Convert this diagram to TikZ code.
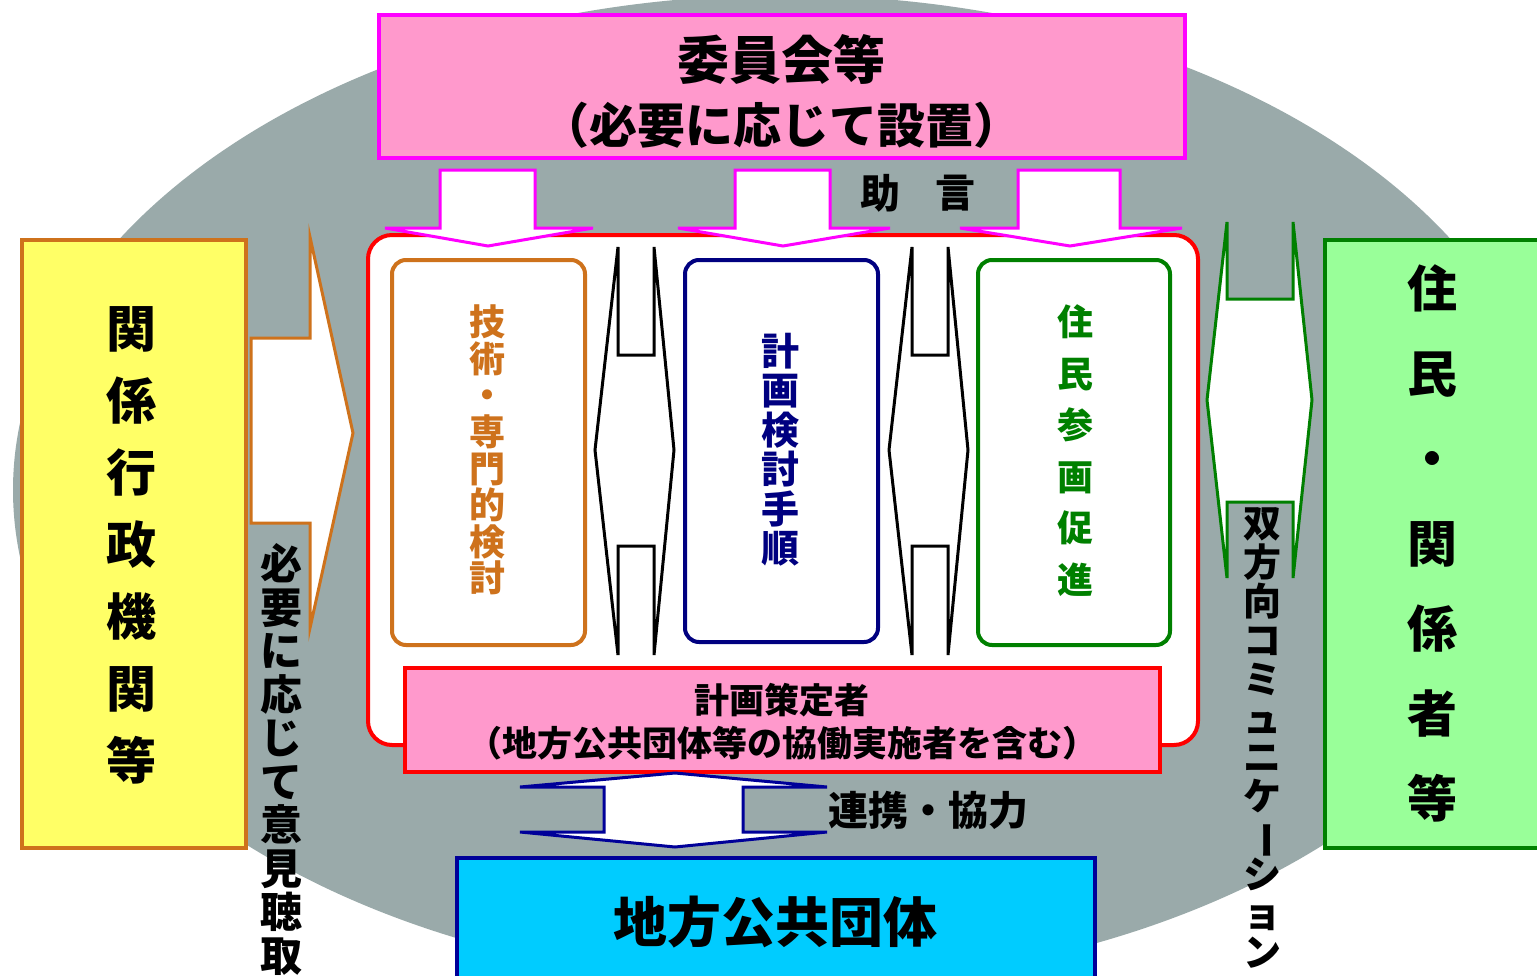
\documentclass[tikz,border=0pt]{standalone}
\usepackage{fontspec}
\usetikzlibrary{fit}
\newfontfamily\jp{Noto Sans CJK JP}
\definecolor{bggray}{RGB}{154,170,170}
\definecolor{pinkf}{RGB}{255,153,204}
\definecolor{mag}{RGB}{255,0,255}
\definecolor{orng}{RGB}{206,114,28}
\definecolor{navyc}{RGB}{0,0,128}
\definecolor{grn}{RGB}{0,128,0}
\definecolor{yel}{RGB}{255,255,102}
\definecolor{lgrn}{RGB}{153,255,153}
\definecolor{cyanc}{RGB}{0,204,255}
\definecolor{boxblue}{RGB}{0,0,153}
\begin{document}
\begin{tikzpicture}[x=0.5pt,y=-0.5pt,
  box/.style={draw, line width=2pt, inner sep=0pt},
  ibox/.style={draw, line width=2pt, inner sep=0pt, rounded corners=7pt, fill=white},
  blockarrow/.style={line width=1.5pt, fill=white, line join=miter},
  jp/.style={font=\jp\bfseries\fontsize{#1}{#1}\selectfont, inner sep=0pt, anchor=center},
  vjp/.style={jp=#1, text height=\dimexpr #1pt*80/100\relax, text depth=\dimexpr #1pt*10/100\relax},
]
\useasboundingbox (0,0) rectangle (1537,975);
\clip (0,0) rectangle (1537,975);
\fill[bggray] (785,490) ellipse [x radius=772, y radius=495];

% top committee box
\node[box, draw=mag, fill=pinkf, fit={(379,15)(1185,158)}] (committee) {};
\node[jp=26] (c1) at (781,60) {委員会等};
\node[jp=24] (c2) at (781,125) {（必要に応じて設置）};
\node[jp=20] (adv1) at (880,193) {助};
\node[jp=20] (adv2) at (955,193) {言};

% main red container
\node[draw=red, line width=2pt, fill=white, rounded corners=12pt, inner sep=0pt, fit={(368,235)(1198,745)}] (planner) {};

% down arrows (advice)
\draw[blockarrow, draw=mag] (440,170) -- (535,170) -- (535,228) -- (593,228) -- (488,246) -- (385,228) -- (440,228) -- cycle;
\draw[blockarrow, draw=mag] (735,170) -- (830,170) -- (830,228) -- (890,228) -- (783,246) -- (678,228) -- (735,228) -- cycle;
\draw[blockarrow, draw=mag] (1018,170) -- (1120,170) -- (1120,228) -- (1182,228) -- (1070,246) -- (960,228) -- (1018,228) -- cycle;

% inner boxes
\node[ibox, draw=orng, fit={(392,260)(585,645)}] (tech) {};
\node[ibox, draw=navyc, fit={(685,260)(878,642)}] (proc) {};
\node[ibox, draw=grn, fit={(978,260)(1170,645)}] (part) {};

\foreach \c [count=\i] in {技,術,・,専,門,的,検,討}
  \node[vjp=18, text=orng] (t\i) at (487,{323+36.6*(\i-1)}) {\c};
\foreach \c [count=\i] in {計,画,検,討,手,順}
  \node[vjp=19, text=navyc] (p\i) at (780,{352+39.5*(\i-1)}) {\c};
\foreach \c [count=\i] in {住,民,参,画,促,進}
  \node[vjp=18, text=grn] (r\i) at (1075,{323+51.5*(\i-1)}) {\c};

% black double arrows between inner boxes
\draw[blockarrow, draw=black] (618,355) -- (618,247) -- (595,450) -- (618,655) -- (618,546) -- (654,546) -- (654,655) -- (674,450) -- (654,247) -- (654,355) -- cycle;
\draw[blockarrow, draw=black] (912,355) -- (912,247) -- (889,450) -- (912,655) -- (912,546) -- (948,546) -- (948,655) -- (968,450) -- (948,247) -- (948,355) -- cycle;

% planner box
\node[box, draw=red, fill=pinkf, fit={(405,668)(1160,772)}] (planbox) {};
\node[jp=17.5] (pl1) at (782,700) {計画策定者};
\node[jp=17.5] (pl2) at (782,743) {（地方公共団体等の協働実施者を含む）};

% left box
\node[box, draw=orng, fill=yel, fit={(22,240)(246,848)}] (gov) {};
\foreach \c [count=\i] in {関,係,行,政,機,関,等}
  \node[vjp=25] (g\i) at (131,{330+72*(\i-1)}) {\c};
\draw[blockarrow, draw=orng] (251,338) -- (310,338) -- (310,237) -- (353,433) -- (310,628) -- (310,523) -- (251,523) -- cycle;
\foreach \c [count=\i] in {必,要,に,応,じ,て,意,見,聴,取}
  \node[vjp=21] (h\i) at (281,{565+43.5*(\i-1)}) {\c};

% right box
\node[box, draw=grn, fill=lgrn, fit={(1325,240)(1550,848)}] (res) {};
\foreach \c [count=\i] in {住,民,・,関,係,者,等}
  \node[vjp=25] (s\i) at (1432,{290+85*(\i-1)}) {\c};
\draw[blockarrow, draw=grn] (1227,299) -- (1227,222) -- (1207,400) -- (1227,578) -- (1227,502) -- (1293,502) -- (1293,578) -- (1312,400) -- (1293,222) -- (1293,299) -- cycle;
\foreach \c [count=\i] in {双,方,向,コ,ミ,ュ,ニ,ケ,{\rotatebox[origin=c]{-90}{ー}},シ,ョ,ン}
  \node[vjp=19] (b\i) at (1262,{524+39*(\i-1)}) {\c};

% bottom
\draw[blockarrow, draw=boxblue] (604,787) -- (520,787) -- (675,773) -- (827,787) -- (743,787) -- (743,832) -- (827,832) -- (675,847) -- (520,832) -- (604,832) -- cycle;
\node[jp=20] (coop) at (928,810) {連携・協力};
\node[box, draw=boxblue, fill=cyanc, fit={(457,858)(1095,990)}] (local) {};
\node[jp=27] (lg) at (775,922) {地方公共団体};
\end{tikzpicture}
\end{document}
